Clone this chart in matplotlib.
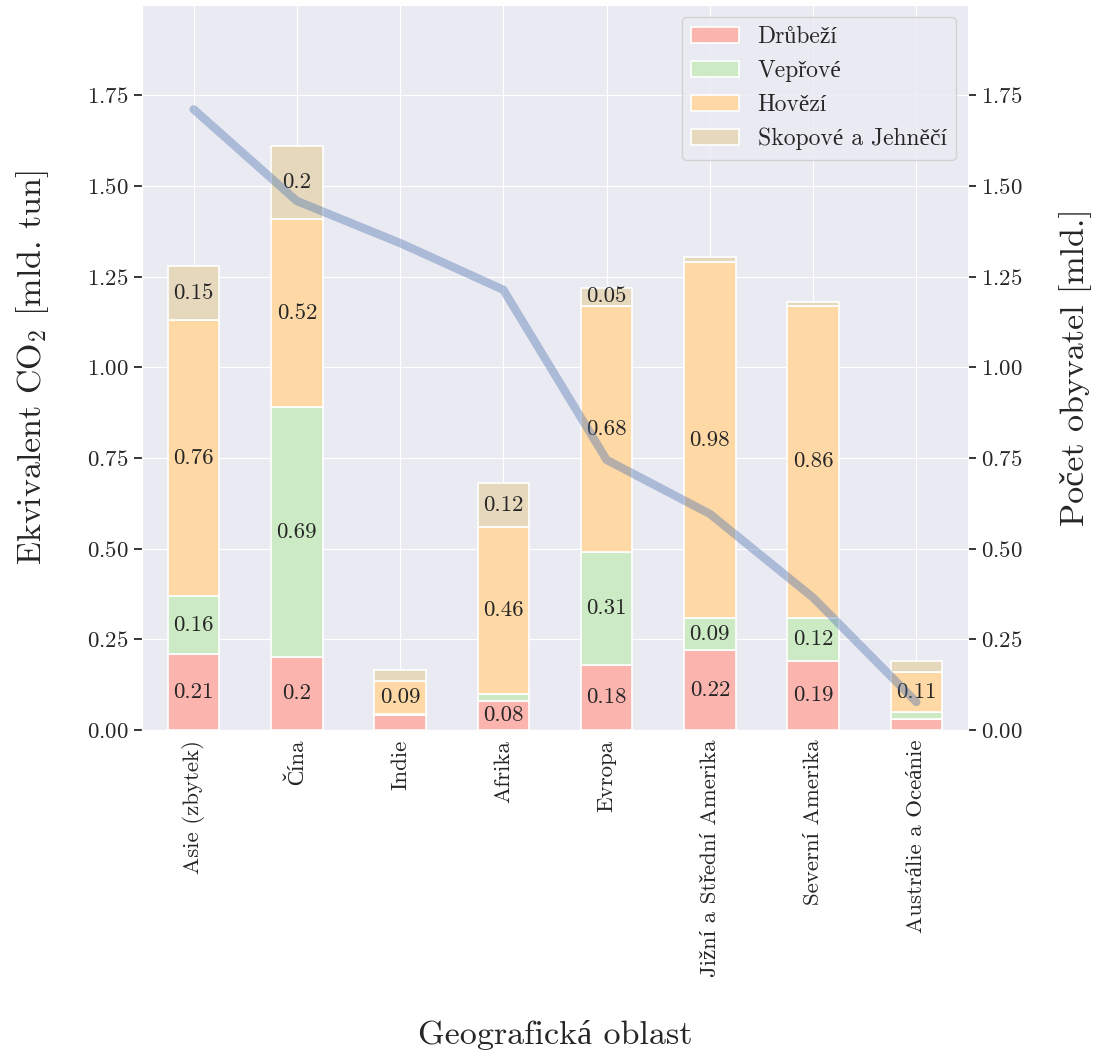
import numpy as np
import matplotlib
matplotlib.use('Agg')
import matplotlib.pyplot as plt
import pandas as pd
import seaborn as sns

oblasti = ['Asie (zbytek)', 'Čína', 'Indie', 'Afrika', 'Evropa',
           'Jižní a Střední Amerika', 'Severní Amerika', 'Austrálie a Oceánie']
drubezi = [0.21, 0.2, 0.04, 0.08, 0.18, 0.22, 0.19, 0.03]
veprove = [0.16, 0.69, 0.005, 0.02, 0.31, 0.09, 0.12, 0.02]
hovezi = [0.76, 0.52, 0.09, 0.46, 0.68, 0.98, 0.86, 0.11]
skopove = [0.15, 0.2, 0.03, 0.12, 0.05, 0.015, 0.01, 0.03]
populace = [1.712, 1.459, 1.343, 1.214, 0.745, 0.596, 0.365, 0.077]

sns.set_style('darkgrid')
plt.rcParams['font.family'] = ['cmr10', 'Liberation Serif']
plt.rcParams['mathtext.fontset'] = 'cm'
plt.rcParams['axes.formatter.use_mathtext'] = True

Data = pd.DataFrame({'Drůbeží': drubezi, 'Vepřové': veprove,
                     'Hovězí': hovezi, 'Skopové a Jehněčí': skopove},
                    index=oblasti)
barvy = ['#fbb4ae', '#ccebc5', '#fed9a6', '#e5d8bd']

fig = plt.figure(figsize=(11.05, 10.57), dpi=100)
ax = fig.add_axes([0.1285, 0.3094, 0.7475, 0.686])
Data.plot(kind='bar', stacked=True, color=barvy, ax=ax, edgecolor='white', linewidth=1.2)

# popisky jen u dostatecne vysokych segmentu
for cont in ax.containers:
    vals = cont.datavalues
    ax.bar_label(cont, labels=[f'{v:g}' if v >= 0.05 else '' for v in vals],
                 label_type='center', fontsize=16.5, color='#262626')

ax.set_ylim(0, 2.0)
ax.set_yticks(np.arange(0, 2.0, 0.25))
ax.set_ylabel('Ekvivalent CO$_2$ [mld. tun]', fontsize=24.5, labelpad=26)
ax.set_xlabel('Geografická oblast', fontsize=24.5, labelpad=31)
ax.tick_params(axis='y', left=True, length=6, width=1.3, color='#262626', labelsize=16.5)
ax.tick_params(axis='x', labelsize=16.5, rotation=90)
ax.legend(loc='upper right', fontsize=17, frameon=True)

ax2 = ax.twinx()
ax2.plot(range(len(oblasti)), populace, color='#4c72b0', alpha=0.4, linewidth=6,
         solid_capstyle='round')
ax2.set_ylim(0, 2.0)
ax2.set_yticks(np.arange(0, 2.0, 0.25))
ax2.grid(False)
ax2.set_ylabel('Počet obyvatel [mld.]', fontsize=24.5, labelpad=26)
ax2.tick_params(axis='y', right=True, length=6, width=1.3, color='#262626', labelsize=16.5)

plt.savefig('out.png', dpi=100)
plt.close()
